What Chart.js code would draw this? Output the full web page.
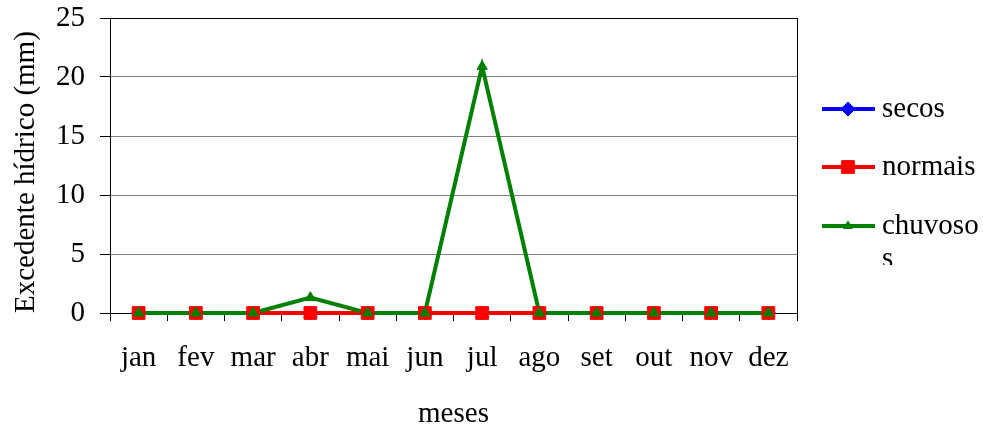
<!DOCTYPE html>
<html>
<head>
<meta charset="utf-8">
<script src="https://cdn.jsdelivr.net/npm/chart.js@4/dist/chart.umd.min.js"></script>
<style>
  html, body { margin: 0; padding: 0; background: #fff; }
  #wrap { width: 983px; height: 429px; }
</style>
</head>
<body>
<div id="wrap"><canvas id="chart" width="983" height="429"></canvas></div>
<script>
// months and series
const meses = ['jan', 'fev', 'mar', 'abr', 'mai', 'jun', 'jul', 'ago', 'set', 'out', 'nov', 'dez'];
const secos = [0, 0, 0, 0, 0, 0, 0, 0, 0, 0, 0, 0];
const normais = [0, 0, 0, 0, 0, 0, 0, 0, 0, 0, 0, 0];
const chuvosos = [0, 0, 0, 1.3, 0, 0, 20.9, 0, 0, 0, 0, 0];
const yTicks = [0, 5, 10, 15, 20, 25];

const FONT = "'Liberation Serif', 'Times New Roman', serif";
const SIZE = 29;

// legend on the right, drawn by hand so the text wraps (and gets cut) like the original
const legendItems = [
    { text: ['secos'], color: '#0000ff', style: 'rectRot', r: 7, y: 109 },
    { text: ['normais'], color: '#ff0000', style: 'rect', r: 9, y: 167 },
    { text: ['chuvoso', 's'], color: '#008000', style: 'triangle', r: 5, y: 226 }
];

const sideLegend = {
    id: 'sideLegend',
    afterDraw(chart) {
        const ctx = chart.ctx;
        ctx.save();
        ctx.beginPath();
        ctx.rect(800, 0, 183, 265);
        ctx.clip();
        legendItems.forEach(item => {
            ctx.strokeStyle = item.color;
            ctx.lineWidth = 4;
            ctx.beginPath();
            ctx.moveTo(822, item.y);
            ctx.lineTo(875, item.y);
            ctx.stroke();
            ctx.fillStyle = item.color;
            ctx.lineWidth = 1;
            Chart.helpers.drawPoint(ctx, { pointStyle: item.style, radius: item.r, borderWidth: 1 }, 848, item.y);
            ctx.fillStyle = '#000';
            ctx.font = SIZE + 'px ' + FONT;
            ctx.textBaseline = 'middle';
            ctx.textAlign = 'left';
            item.text.forEach((t, i) => ctx.fillText(t, 882, item.y + i * 33));
        });
        ctx.restore();
    }
};

// frame around the plot area
const frame = {
    id: 'frame',
    beforeDatasetsDraw(chart) {
        const a = chart.chartArea;
        const ctx = chart.ctx;
        ctx.save();
        ctx.strokeStyle = '#000';
        ctx.lineWidth = 1;
        ctx.strokeRect(a.left + 0.5, a.top + 0.5, a.right - a.left, a.bottom - a.top);
        ctx.restore();
    }
};

// lines first, markers on top of all lines (as the spreadsheet draws them)
function lineOf(data, color, order) {
    return {
        data: data, borderColor: color, backgroundColor: color,
        borderWidth: 4, pointRadius: 0, tension: 0, clip: false, order: order
    };
}
function marksOf(label, data, color, style, r, order) {
    return {
        label: label, data: data, showLine: false,
        pointStyle: style, pointRadius: r, pointBorderWidth: 1,
        pointBackgroundColor: color, pointBorderColor: color,
        borderColor: color, backgroundColor: color, clip: false, order: order
    };
}

new Chart(document.getElementById('chart'), {
    type: 'line',
    data: {
        labels: meses,
        datasets: [
            lineOf(secos, '#0000ff', 5),
            lineOf(normais, '#ff0000', 4),
            lineOf(chuvosos, '#008000', 3),
            marksOf('secos', secos, '#0000ff', 'rectRot', 7, 2),
            marksOf('normais', normais, '#ff0000', 'rect', 9, 1),
            marksOf('chuvosos', chuvosos, '#008000', 'triangle', 6, 0)
        ]
    },
    options: {
        responsive: false,
        animation: false,
        layout: { padding: { top: 18, right: 186, left: 0, bottom: 0 } },
        plugins: { legend: { display: false }, tooltip: { enabled: false } },
        scales: {
            x: {
                offset: true,
                afterFit: s => { s.height = 116; s.paddingLeft = 0; s.paddingRight = 0; },
                grid: { offset: true, drawOnChartArea: false, drawTicks: true, tickLength: 8, color: '#000' },
                border: { color: '#000' },
                ticks: { color: '#000', font: { family: FONT, size: SIZE }, padding: 20, maxRotation: 0, autoSkip: false },
                title: { display: true, text: 'meses', color: '#000', font: { family: FONT, size: SIZE, lineHeight: 1 }, padding: 0 }
            },
            y: {
                min: 0,
                max: 25,
                afterFit: s => { s.width = 110; s.paddingTop = 0; s.paddingBottom = 0; },
                afterBuildTicks: s => { s.ticks = yTicks.map(v => ({ value: v })); },
                grid: { color: '#808080', tickColor: '#000', tickLength: 10, drawTicks: true },
                border: { color: '#000' },
                ticks: { color: '#000', font: { family: FONT, size: SIZE }, padding: 15 },
                title: { display: true, text: 'Excedente hídrico (mm)', align: 'start', color: '#000', font: { family: FONT, size: SIZE, lineHeight: 1 }, padding: { top: 12, bottom: 0 } }
            }
        }
    },
    plugins: [frame, sideLegend]
});
</script>
</body>
</html>
